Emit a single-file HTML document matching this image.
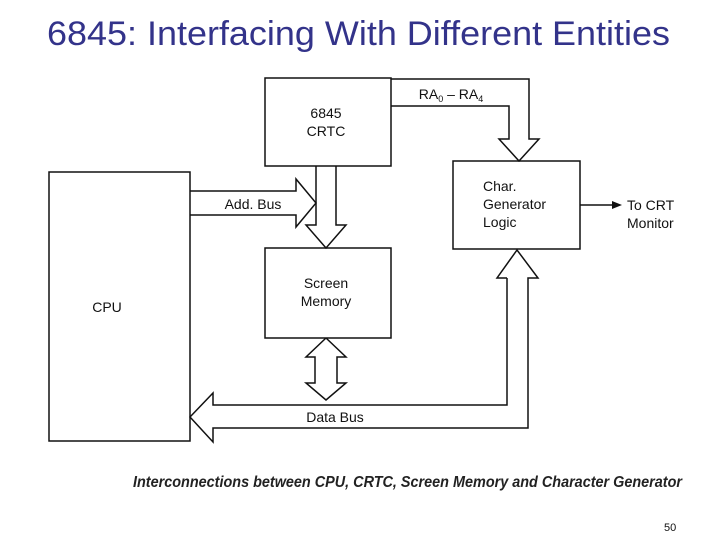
<!DOCTYPE html>
<html><head><style>
html,body{margin:0;padding:0;background:#fff;}
body{width:720px;height:540px;overflow:hidden;position:relative;}
</style></head><body>
<svg width="720" height="540" style="position:absolute;left:0;top:0" font-family="Liberation Sans, sans-serif">
<text x="47" y="45" font-size="34" fill="#33338a" textLength="623" lengthAdjust="spacingAndGlyphs">6845: Interfacing With Different Entities</text>
<g fill="none" stroke="#111" stroke-width="1.5">
<rect x="49" y="172" width="141" height="269"/>
<rect x="265" y="78" width="126" height="88"/>
<rect x="453" y="161" width="127" height="88"/>
<rect x="265" y="248" width="126" height="90"/>
<polyline points="391,79 529,79 529,139 539,139 519,161 499,139 509,139 509,106 391,106"/>
<polyline points="190,191 296,191 296,179 316,203 296,227 296,215 190,215"/>
<polyline points="316,166 316,225 306,225 326,248 346,225 336,225 336,166"/>
<polyline points="326,338 346,357 337,357 337,383 346,383 326,400 306,383 315,383 315,357 306,357 326,338" />
<polyline points="507,278 507,405 213,405 213,393 190,417 213,442 213,428 528,428 528,278 538,278 517,250 497,278 507,278"/>
<line x1="580" y1="205" x2="614" y2="205"/>
</g>
<polygon points="622,205 612,201 612,209" fill="#111"/>
<g font-size="14" fill="#111" text-anchor="middle">
<text x="326" y="118">6845</text><text x="326" y="136">CRTC</text>
<text x="326" y="288">Screen</text><text x="326" y="306">Memory</text>
<text x="107" y="312">CPU</text>
<text x="253" y="209">Add. Bus</text>
<text x="335" y="422">Data Bus</text>
<text x="451" y="99">RA<tspan font-size="9" dy="3">0</tspan><tspan dy="-3"> – RA</tspan><tspan font-size="9" dy="3">4</tspan></text>
</g>
<g font-size="14" fill="#111">
<text x="483" y="191">Char.</text><text x="483" y="209">Generator</text><text x="483" y="227">Logic</text>
<text x="627" y="210">To CRT</text><text x="627" y="228">Monitor</text>
</g>
<text x="133" y="487" font-size="15.5" font-style="italic" font-weight="bold" fill="#222" textLength="549" lengthAdjust="spacingAndGlyphs">Interconnections between CPU, CRTC, Screen Memory and Character Generator</text>
<text x="664" y="531" font-size="11" fill="#111">50</text>
</svg>
</body></html>
